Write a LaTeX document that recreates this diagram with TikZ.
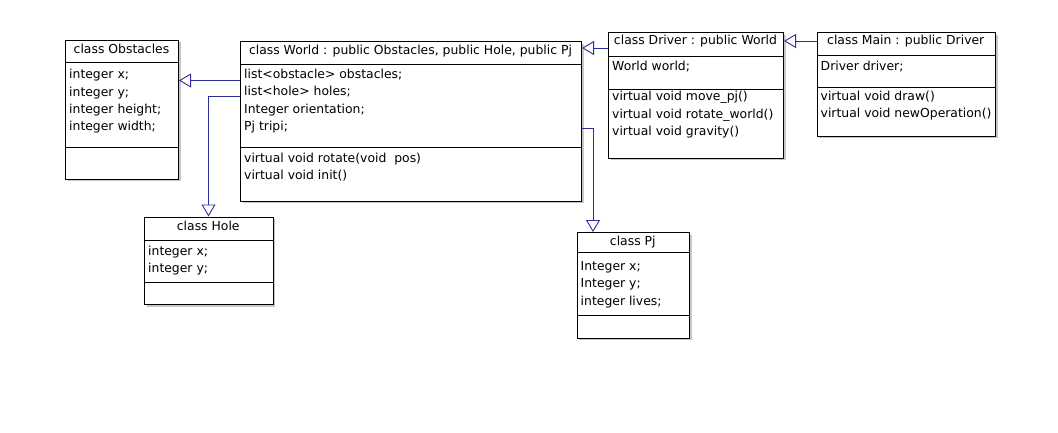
\documentclass[tikz,border=0pt]{standalone}
\usepackage{fontspec}
\setmainfont{DejaVu Sans}
\usetikzlibrary{arrows.meta,shadows}
\definecolor{linkblue}{RGB}{45,45,160}
\tikzset{
  x=1pt, y=-1pt,
  classbox/.style={draw=black, line width=1pt, fill=white, inner sep=0pt, anchor=north west,
    drop shadow={shadow xshift=2pt, shadow yshift=-2pt, fill=black!22, opacity=1}},
  sepline/.style={draw=black, line width=1pt},
  txt/.style={inner sep=0pt, font=\fontsize{12.4}{17.3}\selectfont},
  title/.style={txt, anchor=base},
  rows/.style={txt, anchor=base west, align=left},
  inherit/.style={draw=linkblue, line width=0.9pt, -{Triangle[open, length=12pt, width=14pt, fill=white]}},
}
\begin{document}
\begin{tikzpicture}
\useasboundingbox (0,0) rectangle (1058,433);
% Obstacles
\node[classbox, minimum width=113pt, minimum height=139pt] (obst) at (65,40) {};
\draw[sepline] (obst.west |- 0,63) -- (obst.east |- 0,63);
\draw[sepline] (obst.west |- 0,148) -- (obst.east |- 0,148);
\node[title] (obstT) at (121.5,54) {class Obstacles};
\node[rows] (obstA) at (69,130.9) {integer x;\\integer y;\\integer height;\\integer width;};
% World
\node[classbox, minimum width=341pt, minimum height=159pt] (world) at (240,41.5) {};
\draw[sepline] (world.west |- 0,64.5) -- (world.east |- 0,64.5);
\draw[sepline] (world.west |- 0,148) -- (world.east |- 0,148);
\node[title] (worldT) at (410.5,55) {class World : public Obstacles, public Hole, public Pj};
\node[rows] (worldA) at (244,130.4) {list<obstacle> obstacles;\\list<hole> holes;\\Integer orientation;\\Pj tripi;};
\node[rows] (worldM) at (244,179.8) {virtual void rotate(void\ \ pos)\\virtual void init()};
% Driver
\node[classbox, minimum width=175pt, minimum height=125.5pt] (driver) at (608,32.5) {};
\draw[sepline] (driver.west |- 0,57) -- (driver.east |- 0,57);
\draw[sepline] (driver.west |- 0,89.5) -- (driver.east |- 0,89.5);
\node[title] (driverT) at (695.5,45) {class Driver : public World};
\node[rows] (driverA) at (612,70.5) {World world;};
\node[rows] (driverM) at (612,135.6) {virtual void move\_pj()\\virtual void rotate\_world()\\virtual void gravity()};
% Main
\node[classbox, minimum width=178.5pt, minimum height=103.5pt] (main) at (816.5,32.5) {};
\draw[sepline] (main.west |- 0,56) -- (main.east |- 0,56);
\draw[sepline] (main.west |- 0,87.5) -- (main.east |- 0,87.5);
\node[title] (mainT) at (905.75,45) {class Main : public Driver};
\node[rows] (mainA) at (820.5,70.5) {Driver driver;};
\node[rows] (mainM) at (820.5,117.8) {virtual void draw()\\virtual void newOperation()};
% Hole
\node[classbox, minimum width=128.5pt, minimum height=87.5pt] (hole) at (144,216.5) {};
\draw[sepline] (hole.west |- 0,240.5) -- (hole.east |- 0,240.5);
\draw[sepline] (hole.west |- 0,282) -- (hole.east |- 0,282);
\node[title] (holeT) at (208.25,230) {class Hole};
\node[rows] (holeA) at (148,272.3) {integer x;\\integer y;};
% Pj
\node[classbox, minimum width=112.5pt, minimum height=105.5pt] (pj) at (576.5,232) {};
\draw[sepline] (pj.west |- 0,252) -- (pj.east |- 0,252);
\draw[sepline] (pj.west |- 0,315.5) -- (pj.east |- 0,315.5);
\node[title] (pjT) at (632.75,245) {class Pj};
\node[rows] (pjA) at (580.5,305.1) {Integer x;\\Integer y;\\integer lives;};
% connectors
\draw[inherit] (world.west |- 0,80.5) -- (obst.east |- 0,80.5);
\draw[inherit] (world.west |- 0,96.5) -| (hole.north -| 208.5,0);
\draw[inherit] (world.east |- 0,128.5) -| (pj.north -| 593,0);
\draw[inherit] (driver.west |- 0,48) -- (world.east |- 0,48);
\draw[inherit] (main.west |- 0,41) -- (driver.east |- 0,41);
\end{tikzpicture}
\end{document}
